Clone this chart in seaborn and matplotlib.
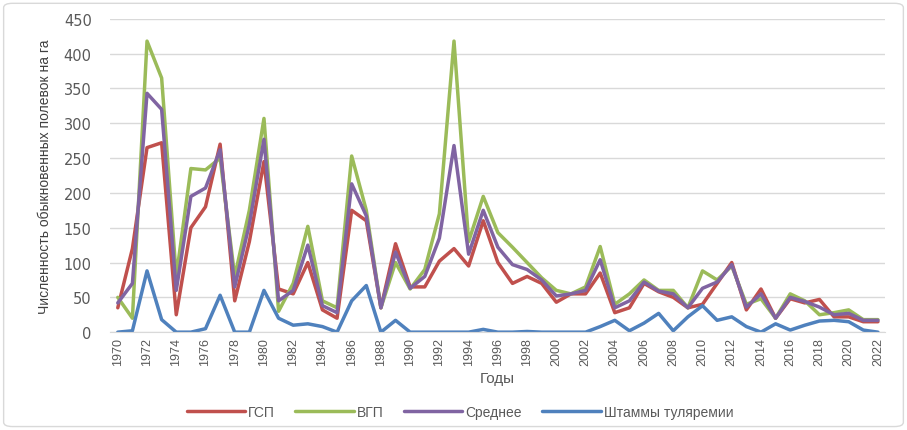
import pandas as pd
import matplotlib.pyplot as plt
import seaborn as sns
import matplotlib.font_manager as fm
from matplotlib.patches import FancyBboxPatch

years = list(range(1970, 2023))

gsp = [35, 120, 265, 272, 25, 150, 180, 270, 45, 130,
       245, 62, 55, 100, 32, 20, 175, 160, 35, 127,
       65, 65, 102, 120, 95, 160, 100, 70, 80, 70,
       43, 55, 55, 85, 28, 35, 70, 58, 50, 35,
       40, 70, 100, 32, 62, 20, 48, 42, 47, 22,
       22, 15, 15]
vgp = [50, 20, 418, 365, 80, 235, 233, 250, 80, 175,
       307, 30, 70, 152, 45, 35, 253, 175, 35, 100,
       62, 90, 170, 418, 130, 195, 143, 122, 100, 78,
       60, 55, 65, 123, 40, 55, 75, 60, 60, 35,
       88, 75, 95, 40, 48, 20, 55, 45, 25, 28,
       32, 18, 18]
mean = [42, 70, 343, 320, 60, 195, 207, 262, 65, 155,
        277, 45, 60, 125, 38, 28, 213, 167, 35, 115,
        63, 80, 135, 268, 112, 175, 122, 97, 90, 75,
        52, 55, 60, 104, 35, 45, 72, 59, 55, 35,
        63, 72, 97, 36, 55, 20, 50, 44, 36, 25,
        27, 17, 17]
strains = [0, 2, 88, 18, 0, 0, 5, 53, 0, 0,
           60, 20, 10, 12, 8, 0, 45, 67, 0, 17,
           0, 0, 0, 0, 0, 4, 0, 0, 1, 0,
           0, 0, 0, 8, 17, 2, 13, 27, 2, 22,
           38, 17, 22, 8, 0, 12, 3, 10, 16, 17,
           15, 3, 0]

series_names = ["ГСП", "ВГП", "Среднее", "Штаммы туляремии"]
colors = ["#C0504D", "#9BBB59", "#8064A2", "#4F81BD"]

df = pd.DataFrame({"Год": years, "ГСП": gsp, "ВГП": vgp,
                   "Среднее": mean, "Штаммы туляремии": strains})
long = df.melt(id_vars="Год", var_name="Ряд", value_name="Значение")

sns.set_style("white")
names = {f.name for f in fm.fontManager.ttflist}
plt.rcParams['font.family'] = ['Liberation Sans', 'DejaVu Sans']
label_font = 'Liberation Sans Narrow' if 'Liberation Sans Narrow' in names else 'Liberation Sans'

fig = plt.figure(figsize=(9.07, 4.31), dpi=100)
ax = fig.add_axes([0.121, 0.227, 0.855, 0.727])

sns.lineplot(data=long, x="Год", y="Значение", hue="Ряд", hue_order=series_names,
             palette=colors, linewidth=2.5, ax=ax, legend=False)

ax.set_xlim(1969.45, 2022.5)
ax.set_ylim(0, 450)
ax.set_yticks(range(0, 451, 50))
ax.set_xticks(range(1970, 2023, 2))
ax.tick_params(axis='x', labelrotation=90, labelsize=9, colors="#595959", length=0)
ax.tick_params(axis='y', labelsize=10.5, colors="#595959", length=0, pad=13)
for lbl in ax.get_yticklabels():
    lbl.set_family('DejaVu Sans')
ax.yaxis.grid(True, color="#D9D9D9", linewidth=1)
ax.set_axisbelow(True)
for s in ["top", "right", "left"]:
    ax.spines[s].set_visible(False)
ax.spines["bottom"].set_color("#D9D9D9")

ax.set_xlabel("Годы", fontsize=11, color="#595959")
ax.set_ylabel("Численность обыкновенных полевок на га", family=label_font,
              fontsize=11 if label_font.endswith("Narrow") else 10, color="#404040")
ax.yaxis.set_label_coords(-0.075, 0.5)

handles = [plt.Line2D([], [], color=c, linewidth=2.5) for c in colors]
fig.legend(handles, series_names, loc="center", bbox_to_anchor=(0.507, 0.042), ncol=4,
           frameon=False, fontsize=10, handlelength=4.2, handletextpad=0.2,
           columnspacing=1.5, labelcolor="#595959")

fig.patches.append(FancyBboxPatch((0.004, 0.008), 0.992, 0.982,
                                  boxstyle="round,pad=0,rounding_size=0.01",
                                  transform=fig.transFigure, fill=False,
                                  edgecolor="#D9D9D9", linewidth=1))

fig.savefig("out.png", dpi=100)
